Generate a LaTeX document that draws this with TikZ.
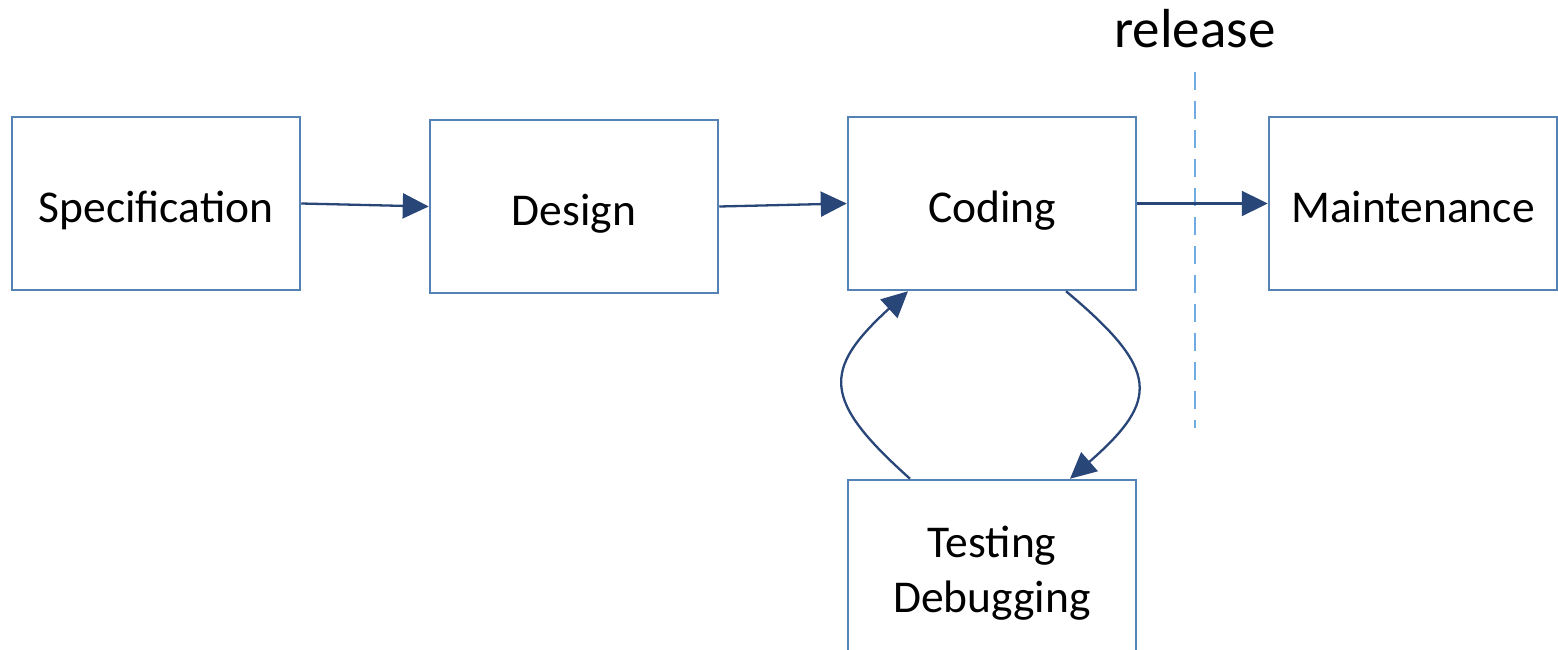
\documentclass[tikz,border=0pt]{standalone}
\usepackage{fontspec}
\setmainfont{Carlito}
\usetikzlibrary{arrows.meta}
\definecolor{boxline}{RGB}{84,130,180}
\definecolor{flow}{RGB}{41,70,120}
\definecolor{releaseline}{RGB}{111,170,224}
\begin{document}
\begin{tikzpicture}[x=1pt,y=-1pt,
  stage/.style={draw=boxline, line width=2.5pt, fill=white, rectangle,
    minimum width=288pt, minimum height=173pt, inner sep=0pt,
    align=center, font=\fontsize{45.5}{55}\selectfont},
  oneline/.style={text height=40pt, text depth=3pt},
  flowarrow/.style={draw=flow, line width=2.3pt,
    -{Triangle[length=26pt,width=25pt]}}]
  \useasboundingbox (0,0) rectangle (1558,650);

  % phases of the process
  \node[stage,oneline] (spec)   at (156,203.5)  {Specification};
  \node[stage,oneline] (design) at (574,206.5)  {Design};
  \node[stage,oneline] (coding) at (992,203.5)  {Coding};
  \node[stage,oneline] (maint)  at (1413,203.5) {Maintenance};
  % the lower edge runs past the page
  \node[stage, minimum height=187pt] (test) at (992,573.5) {Testing\\Debugging};

  % release boundary
  \node[font=\fontsize{55}{60}\selectfont] (rel) at (1195,29) {release};
  \coordinate (relTop) at (1195,72);
  \coordinate (relBot) at (1195,428);
  \draw[releaseline, line width=2.5pt, dash pattern=on 18pt off 11pt] (relTop) -- (relBot);

  % forward flow
  \draw[flowarrow] (spec.east) -- (design.west);
  \draw[flowarrow] (design.east) -- (coding.west);
  \draw[flowarrow] (coding.east) -- (maint.west);

  % code / test loop
  \draw[flowarrow] ([xshift=74pt]coding.south) .. controls (1160,370) and (1160,400) .. ([xshift=78pt]test.north);
  \draw[flowarrow] ([xshift=-82pt]test.north) .. controls (822,400) and (822,370) .. ([xshift=-84pt]coding.south);
\end{tikzpicture}
\end{document}
